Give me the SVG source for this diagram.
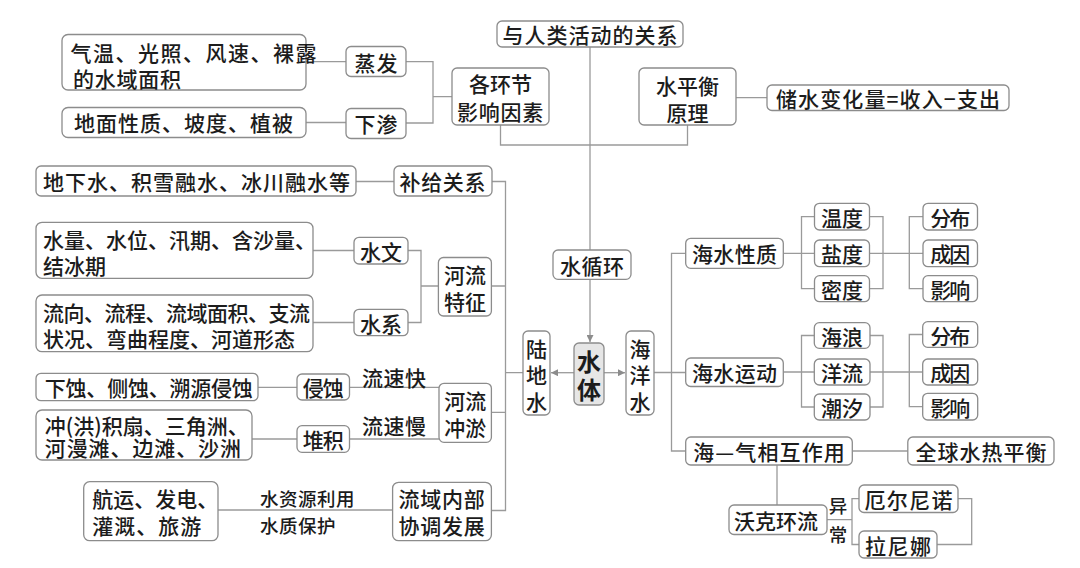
<svg xmlns="http://www.w3.org/2000/svg" width="1080" height="568" viewBox="0 0 1080 568">
<defs>
<style>
.b{fill:#fff;stroke:#8c8c8c;stroke-width:1.3}
.t{font-family:"Noto Sans CJK SC","Noto Sans CJK TC",sans-serif;font-size:21px;font-weight:500;fill:#1c1c1c}
.c{text-anchor:middle;dominant-baseline:central}
.l{text-anchor:start;dominant-baseline:central}
.s{font-size:18.5px}
.k{fill:none;stroke:#9a9a9a;stroke-width:1.3}
</style>
<marker id="ah" viewBox="0 0 10 10" refX="10" refY="5" markerWidth="8" markerHeight="7" markerUnits="userSpaceOnUse" orient="auto">
<path d="M0,0 L10,5 L0,10 z" fill="#8c8c8c"/>
</marker>
</defs>
<rect width="1080" height="568" fill="#fff"/>

<g id="connectors">
<path class="k" d="M306,61.7H346M306,122.5H346M406,61.7H433V123H406M433,96.7H452"/>
<path class="k" d="M500.5,125V145H687.5V125M590,47V250M736,97.7H767"/>
<path class="k" d="M356,181.5H394M492,181.5H505.5V510.5H491.4M505.5,372.7H523"/>
<path class="k" d="M313,250.5H354M313,322.5H354M408,250.5H421V322.5H408M421,286H438M491,286H505.5"/>
<path class="k" d="M258,387.3H297M349.5,387.3H439M252,439H297M349.5,439H439M491.4,412.3H505.5M218,510H392.6"/>
<path class="k" d="M590,279.3V342" marker-end="url(#ah)"/>
<path class="k" d="M574,372.7H551" marker-end="url(#ah)"/>
<path class="k" d="M604,372.7H625" marker-end="url(#ah)"/>
<path class="k" d="M654,372.5H685.7M685.7,253.3H671.5V451H685.7"/>
<path class="k" d="M783.3,253.3H814.5M814.5,216.7H801.5V288.7H814.5M869.5,216.7H883V288.7H869.5M869.5,253.3H923M923,216.7H909.3V288.7H923"/>
<path class="k" d="M783.3,372H814.3M814.3,335.5H801.5V407H814.3M870,335.5H883V407H870M870,372H922.7M922.7,334.5H909.3V406.7H922.7"/>
<path class="k" d="M852.3,451H907.8M777,465V505M827,519.7H852M859,498.7H852V544.5H859M958,498.7H971.7V544.5H937"/>
</g>

<g id="n_human"><rect class="b" x="497" y="21" width="186" height="26" rx="5"/><text class="t c" x="590" y="34" textLength="175">与人类活动的关系</text></g>
<g id="n_factors"><rect class="b" x="452" y="68" width="97" height="57" rx="5"/><text class="t c"><tspan x="500.5" y="83">各环节</tspan><tspan x="500.5" y="111" style="letter-spacing:0.7px">影响因素</tspan></text></g>
<g id="n_evap"><rect class="b" x="346" y="46.5" width="60" height="30" rx="5"/><text class="t c" x="376" y="61.7" textLength="43">蒸发</text></g>
<g id="n_infil"><rect class="b" x="346" y="108.5" width="60" height="30" rx="5"/><text class="t c" x="376" y="123.3" textLength="43">下渗</text></g>
<g id="n_evap_f"><rect class="b" x="62" y="34.5" width="244" height="55.5" rx="6"/><text class="t l"><tspan x="70.6" y="51.5" style="letter-spacing:1.5px">气温、光照、风速、裸露</tspan><tspan x="73" y="78" style="letter-spacing:0.75px">的水域面积</tspan></text></g>
<g id="n_infil_f"><rect class="b" x="62" y="107.5" width="244" height="30" rx="6"/><text class="t l" x="74" y="122.3" textLength="219">地面性质、坡度、植被</text></g>
<g id="n_balance"><rect class="b" x="639" y="68" width="97" height="57" rx="5"/><text class="t c"><tspan x="687.5" y="85">水平衡</tspan><tspan x="687.5" y="111.5">原理</tspan></text></g>
<g id="n_storage"><rect class="b" x="767" y="85" width="242" height="25.5" rx="5"/><text class="t c" x="888" y="97.7" textLength="224">储水变化量=收入−支出</text></g>

<g id="n_supply_f"><rect class="b" x="36" y="166" width="320" height="30" rx="5"/><text class="t l" x="43" y="181" textLength="307">地下水、积雪融水、冰川融水等</text></g>
<g id="n_supply"><rect class="b" x="394" y="166" width="98" height="30" rx="5"/><text class="t c" x="442.5" y="181" textLength="86">补给关系</text></g>
<g id="n_hydro_f"><rect class="b" x="36" y="222.3" width="277" height="56" rx="6"/><text class="t l"><tspan x="43" y="238.5">水量、水位、汛期、含沙量、</tspan><tspan x="43" y="265">结冰期</tspan></text></g>
<g id="n_hydro"><rect class="b" x="354" y="237.3" width="54" height="26.7" rx="5"/><text class="t c" x="381" y="250.5" textLength="42">水文</text></g>
<g id="n_sys_f"><rect class="b" x="36" y="295" width="277" height="56.7" rx="6"/><text class="t l"><tspan x="43" y="311.5" style="letter-spacing:-0.5px">流向、流程、流域面积、支流</tspan><tspan x="43" y="337.5">状况、弯曲程度、河道形态</tspan></text></g>
<g id="n_sys"><rect class="b" x="354" y="309.3" width="54" height="26.4" rx="5"/><text class="t c" x="381" y="322.5" textLength="42">水系</text></g>
<g id="n_river"><rect class="b" x="438.4" y="257.5" width="53" height="58.5" rx="5"/><text class="t c"><tspan x="464.9" y="273.5">河流</tspan><tspan x="464.9" y="300.5">特征</tspan></text></g>

<g id="n_erode_f"><rect class="b" x="36" y="373.3" width="222" height="27.4" rx="5"/><text class="t l" x="44.8" y="387" textLength="208">下蚀、侧蚀、溯源侵蚀</text></g>
<g id="n_erode"><rect class="b" x="297" y="374" width="52.5" height="26" rx="5"/><text class="t c" x="323.2" y="387" textLength="41">侵蚀</text></g>
<text class="t c" x="394" y="376.5" textLength="64">流速快</text>
<g id="n_depo_f"><rect class="b" x="36" y="410" width="216" height="50" rx="6"/><text class="t l"><tspan x="44.8" y="425">冲(洪)积扇、三角洲、</tspan><tspan x="44.8" y="446.7" style="letter-spacing:0.9px">河漫滩、边滩、沙洲</tspan></text></g>
<g id="n_depo"><rect class="b" x="297" y="425.7" width="52.5" height="26.6" rx="5"/><text class="t c" x="323.2" y="439" textLength="41">堆积</text></g>
<text class="t c" x="394" y="425" textLength="64">流速慢</text>
<g id="n_scour"><rect class="b" x="439" y="383.3" width="52.4" height="59" rx="5"/><text class="t c"><tspan x="465.2" y="400">河流</tspan><tspan x="465.2" y="426.7">冲淤</tspan></text></g>
<g id="n_use_f"><rect class="b" x="83.7" y="481.7" width="134.3" height="59" rx="6"/><text class="t l"><tspan x="92.3" y="498.3">航运、发电、</tspan><tspan x="92.3" y="525" style="letter-spacing:1px">灌溉、旅游</tspan></text></g>
<text class="t l s"><tspan x="260" y="498.3" style="letter-spacing:0.5px">水资源利用</tspan><tspan x="260" y="525" style="letter-spacing:0.5px">水质保护</tspan></text>
<g id="n_basin"><rect class="b" x="392.6" y="482.3" width="98.8" height="58.4" rx="6"/><text class="t c"><tspan x="442" y="498.3" style="letter-spacing:0.7px">流域内部</tspan><tspan x="442" y="525" style="letter-spacing:0.7px">协调发展</tspan></text></g>

<g id="n_cycle"><rect class="b" x="553" y="250" width="78" height="29.3" rx="5"/><text class="t c" x="592" y="264.7" textLength="64">水循环</text></g>
<g id="n_water"><rect x="574" y="343" width="30" height="62" rx="5" fill="#e6e6e6" stroke="#8c8c8c" stroke-width="1.3"/><text class="t c" style="font-size:24px;font-weight:700"><tspan x="589" y="360">水</tspan><tspan x="589" y="387.5">体</tspan></text></g>
<g id="n_land"><rect class="b" x="523" y="331" width="27" height="84" rx="5"/><text class="t c"><tspan x="536.5" y="347.5">陆</tspan><tspan x="536.5" y="373.5">地</tspan><tspan x="536.5" y="400.5">水</tspan></text></g>
<g id="n_ocean"><rect class="b" x="626" y="331" width="28" height="84" rx="5"/><text class="t c"><tspan x="640" y="347.5">海</tspan><tspan x="640" y="373.5">洋</tspan><tspan x="640" y="400.5">水</tspan></text></g>

<g id="n_prop"><rect class="b" x="685.7" y="238.3" width="97.6" height="30" rx="5"/><text class="t c" x="734.5" y="253.3" textLength="85">海水性质</text></g>
<g id="n_temp"><rect class="b" x="814.5" y="203.3" width="55" height="26.7" rx="5"/><text class="t c" x="842" y="216.7" textLength="42">温度</text></g>
<g id="n_sal"><rect class="b" x="814.5" y="240" width="55" height="26.7" rx="5"/><text class="t c" x="842" y="253.3" textLength="42">盐度</text></g>
<g id="n_den"><rect class="b" x="814.5" y="275.7" width="55" height="26" rx="5"/><text class="t c" x="842" y="288.7" textLength="42">密度</text></g>
<g id="n_dist1"><rect class="b" x="923" y="203.3" width="54.5" height="26.7" rx="5"/><text class="t c" x="950.2" y="216.7" textLength="40">分布</text></g>
<g id="n_cause1"><rect class="b" x="923" y="240" width="54.5" height="26.7" rx="5"/><text class="t c" x="950.2" y="253.3" textLength="40">成因</text></g>
<g id="n_eff1"><rect class="b" x="923" y="275.7" width="54.5" height="26" rx="5"/><text class="t c" x="950.2" y="288.7" textLength="40">影响</text></g>

<g id="n_motion"><rect class="b" x="685.7" y="358" width="97.6" height="28.5" rx="5"/><text class="t c" x="734.5" y="372" textLength="85">海水运动</text></g>
<g id="n_wave"><rect class="b" x="814.3" y="322.7" width="55.7" height="25.6" rx="5"/><text class="t c" x="842" y="335.5" textLength="42">海浪</text></g>
<g id="n_curr"><rect class="b" x="814.3" y="359" width="55.7" height="26" rx="5"/><text class="t c" x="842" y="372" textLength="42">洋流</text></g>
<g id="n_tide"><rect class="b" x="814.3" y="394" width="55.7" height="26" rx="5"/><text class="t c" x="842" y="407" textLength="42">潮汐</text></g>
<g id="n_dist2"><rect class="b" x="922.7" y="321.7" width="55" height="25.6" rx="5"/><text class="t c" x="950.2" y="334.5" textLength="40">分布</text></g>
<g id="n_cause2"><rect class="b" x="922.7" y="359" width="55" height="26" rx="5"/><text class="t c" x="950.2" y="372" textLength="40">成因</text></g>
<g id="n_eff2"><rect class="b" x="922.7" y="393.3" width="55" height="26.7" rx="5"/><text class="t c" x="950.2" y="406.7" textLength="40">影响</text></g>

<g id="n_airsea"><rect class="b" x="685.7" y="437" width="166.6" height="28" rx="5"/><text class="t c" x="769" y="451" textLength="151.6">海—气相互作用</text></g>
<g id="n_global"><rect class="b" x="907.8" y="437" width="146.2" height="28" rx="5"/><text class="t c" x="981" y="451" textLength="131">全球水热平衡</text></g>
<g id="n_walker"><rect class="b" x="729" y="505" width="98" height="29.5" rx="5"/><text class="t c" x="776" y="519.7" textLength="84">沃克环流</text></g>
<text class="t c s"><tspan x="838" y="505">异</tspan><tspan x="838" y="534">常</tspan></text>
<g id="n_elnino"><rect class="b" x="859" y="485" width="99" height="27.5" rx="5"/><text class="t c" x="908.5" y="498.7" textLength="88">厄尔尼诺</text></g>
<g id="n_lanina"><rect class="b" x="859" y="531" width="78" height="27" rx="5"/><text class="t c" x="898" y="544.5" textLength="66">拉尼娜</text></g>
</svg>
